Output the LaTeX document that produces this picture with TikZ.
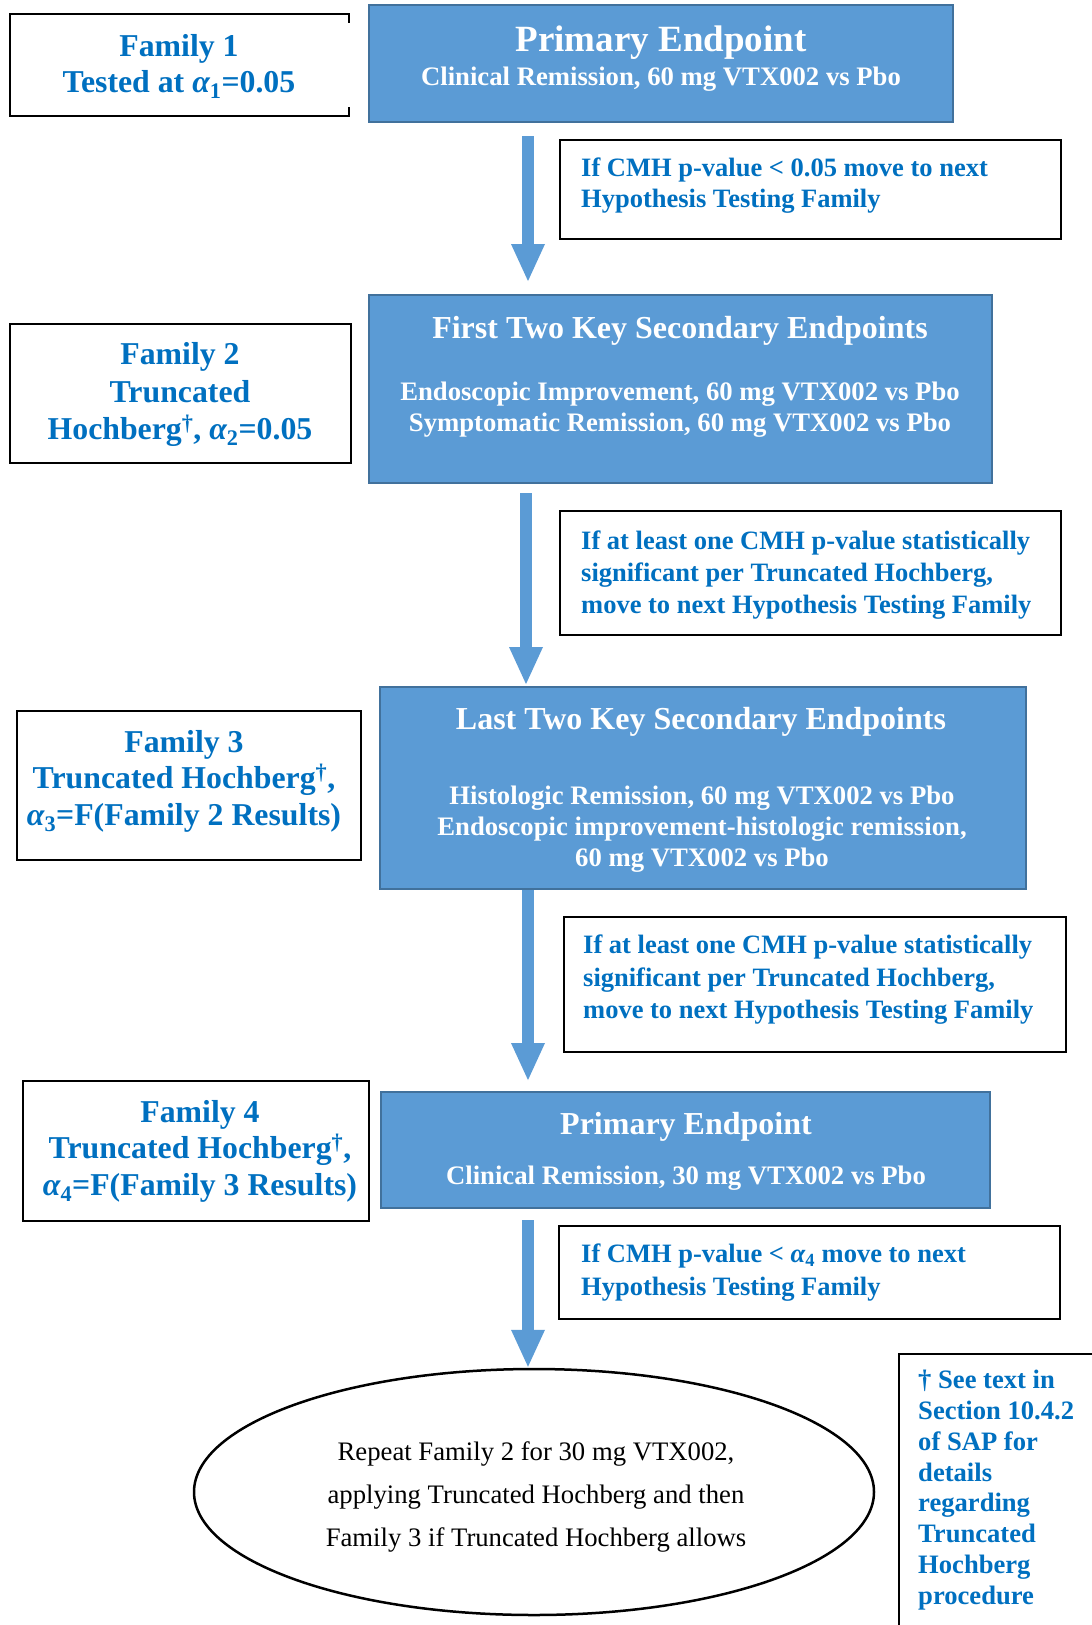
\documentclass[tikz,border=0pt]{standalone}
\usepackage{fontspec}
\setmainfont{Liberation Serif}
\usetikzlibrary{arrows.meta,shapes.geometric}
\definecolor{boxblue}{HTML}{5B9BD5}
\definecolor{boxedge}{HTML}{41719C}
\definecolor{tblue}{HTML}{0070C0}
\definecolor{arrowblue}{HTML}{5B9BD5}
\begin{document}
\begin{tikzpicture}[x=1pt,y=-1pt,
  fambox/.style={draw=black, line width=1.6pt, fill=white, inner sep=0pt},
  bluebox/.style={draw=boxedge, fill=boxblue, line width=2pt, inner sep=0pt},
  condbox/.style={draw=black, line width=1.6pt, fill=white, inner sep=0pt},
  famtxt/.style={text=tblue, font=\bfseries\fontsize{31.8}{36.5}\selectfont, align=center, inner sep=0pt},
  condtxt/.style={text=tblue, font=\bfseries\fontsize{26.5}{32}\selectfont, align=left, inner sep=0pt, anchor=west},
  bigtitle/.style={text=white, font=\bfseries\fontsize{37}{44}\selectfont, inner sep=0pt},
  title/.style={text=white, font=\bfseries\fontsize{32}{38}\selectfont, inner sep=0pt},
  subtxt/.style={text=white, font=\bfseries\fontsize{26.7}{31}\selectfont, align=center, inner sep=0pt},
  bigarrow/.style={draw=arrowblue, line width=12pt, line cap=butt,
    -{Triangle[width=34pt,length=37pt,line width=0pt]}}
]
\useasboundingbox (0,0) rectangle (1092,1625);
\clip (0,0) rectangle (1092,1625);
\fill[white] (0,0) rectangle (1092,1625);

% Family boxes
\node[inner sep=0pt, minimum width=339pt, minimum height=102pt] (f1) at (179.5,65) {};
\draw[line width=1.6pt] ([yshift=-9pt]f1.north east) -- (f1.north east) -- (f1.north west)
  -- (f1.south west) -- (f1.south east) -- ([yshift=9pt]f1.south east);
\node[famtxt] (f1t) at (179,66.5) {Family 1\\Tested at {\itshape α}\textsubscript{1}=0.05};

\node[fambox, minimum width=341pt, minimum height=139pt] (f2) at (180.5,393.5) {};
\node[famtxt, font=\bfseries\fontsize{31.8}{37.5}\selectfont] (f2t) at (180,394.5) {Family 2\\Truncated\\Hochberg\textsuperscript{†}, {\itshape α}\textsubscript{2}=0.05};

\node[fambox, minimum width=344pt, minimum height=149pt] (f3) at (189,785.5) {};
\node[famtxt] (f3t) at (184,781) {Family 3\\Truncated Hochberg\textsuperscript{†},\\{\itshape α}\textsubscript{3}=F(Family 2 Results)};

\node[fambox, minimum width=346pt, minimum height=140pt] (f4) at (196,1151) {};
\node[famtxt] (f4t) at (200,1151) {Family 4\\Truncated Hochberg\textsuperscript{†},\\{\itshape α}\textsubscript{4}=F(Family 3 Results)};

% Blue boxes
\node[bluebox, minimum width=584pt, minimum height=117pt] (p1) at (661,63.5) {};
\node[bigtitle] (p1t) at (661,42.5) {Primary Endpoint};
\node[subtxt] (p1s) at (661,79.6) {Clinical Remission, 60 mg VTX002 vs Pbo};

\node[bluebox, minimum width=623pt, minimum height=188pt] (b2) at (680.5,389) {};
\node[title] (b2t) at (680,331) {First Two Key Secondary Endpoints};
\node[subtxt] (b2s) at (680,410) {Endoscopic Improvement, 60 mg VTX002 vs Pbo\\Symptomatic Remission, 60 mg VTX002 vs Pbo};

\node[bluebox, minimum width=646pt, minimum height=202pt] (b3) at (703,788) {};
\node[title] (b3t) at (701,722) {Last Two Key Secondary Endpoints};
\node[subtxt] (b3s) at (702,829.6) {Histologic Remission, 60 mg VTX002 vs Pbo\\Endoscopic improvement-histologic remission,\\60 mg VTX002 vs Pbo};

\node[bluebox, minimum width=609pt, minimum height=116pt] (b4) at (685.5,1150) {};
\node[title] (b4t) at (686,1127) {Primary Endpoint};
\node[subtxt] (b4s) at (686,1178.6) {Clinical Remission, 30 mg VTX002 vs Pbo};

% Condition boxes
\node[condbox, minimum width=501pt, minimum height=99pt] (c1) at (810.5,189.5) {};
\node[condtxt, font=\bfseries\fontsize{26.5}{31}\selectfont] (c1t) at (581,186) {If CMH p-value < 0.05 move to next\\Hypothesis Testing Family};

\node[condbox, minimum width=501pt, minimum height=124pt] (c2) at (810.5,573) {};
\node[condtxt] (c2t) at (581,574.6) {If at least one CMH p-value statistically\\significant per Truncated Hochberg,\\move to next Hypothesis Testing Family};

\node[condbox, minimum width=502pt, minimum height=135pt] (c3) at (815,984.5) {};
\node[condtxt, font=\bfseries\fontsize{26.5}{32.5}\selectfont] (c3t) at (583,980) {If at least one CMH p-value statistically\\significant per Truncated Hochberg,\\move to next Hypothesis Testing Family};

\node[condbox, minimum width=501pt, minimum height=93pt] (c4) at (809.5,1272.5) {};
\node[condtxt, font=\bfseries\fontsize{26.5}{33}\selectfont] (c4t) at (581,1273) {If CMH p-value < {\itshape α}\textsubscript{4} move to next\\Hypothesis Testing Family};

% Ellipse
\node[ellipse, draw=black, line width=2.5pt, minimum width=680pt, minimum height=246pt, inner sep=0pt] (ell) at (534,1492) {};
\node[align=center, inner sep=0pt, font=\fontsize{26.7}{43}\selectfont] (ellt) at (536,1497) {Repeat Family 2 for 30 mg VTX002,\\applying Truncated Hochberg and then\\Family 3 if Truncated Hochberg allows};

% Footnote box
\node[draw=black, line width=1.6pt, inner sep=0pt, minimum width=220pt, minimum height=300pt, anchor=north west] (foot) at (898,1353) {};
\node[condtxt, font=\bfseries\fontsize{26.6}{30.8}\selectfont] (foott) at (918,1490) {† See text in\\Section 10.4.2\\of SAP for\\details\\regarding\\Truncated\\Hochberg\\procedure};

% Arrows
\coordinate (ax) at (528,0);
\coordinate (ax2) at (526,0);
\draw[bigarrow, shorten <=13pt, shorten >=13pt] (p1.south -| ax) -- (b2.north -| ax);
\draw[bigarrow, shorten <=9pt, shorten >=2pt] (b2.south -| ax2) -- (b3.north -| ax2);
\draw[bigarrow, shorten <=0pt, shorten >=11pt] (b3.south -| ax) -- (b4.north -| ax);
\draw[bigarrow, shorten <=11pt, shorten >=1pt] (b4.south -| ax) -- (ell.north -| ax);
\end{tikzpicture}
\end{document}
